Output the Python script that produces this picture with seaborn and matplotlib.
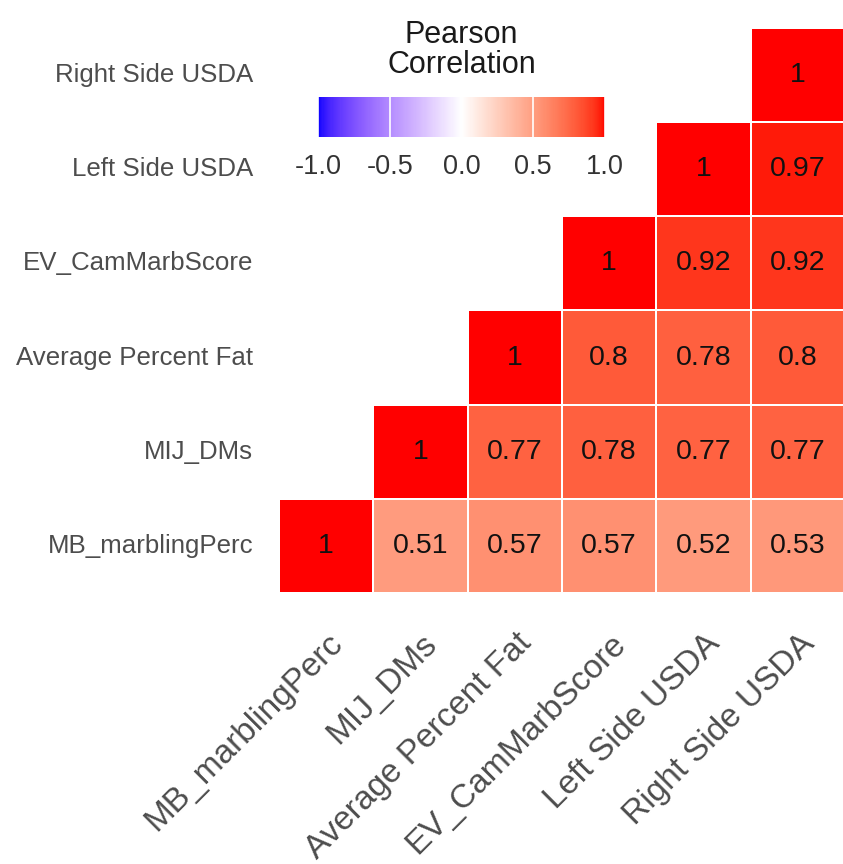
import numpy as np
import pandas as pd
import matplotlib
matplotlib.use("Agg")
import matplotlib.pyplot as plt
import matplotlib.transforms as mtransforms
from matplotlib.colors import ListedColormap
import seaborn as sns

# Variables (bottom-to-top on the y axis, left-to-right on the x axis)
variables = ["MB_marblingPerc", "MIJ_DMs", "Average Percent Fat",
             "EV_CamMarbScore", "Left Side USDA", "Right Side USDA"]

# Pearson correlation of each variable with every variable
r_mb = [1.00, 0.51, 0.57, 0.57, 0.52, 0.53]
r_mij = [0.51, 1.00, 0.77, 0.78, 0.77, 0.77]
r_fat = [0.57, 0.77, 1.00, 0.80, 0.78, 0.80]
r_ev = [0.57, 0.78, 0.80, 1.00, 0.92, 0.92]
r_left = [0.52, 0.77, 0.78, 0.92, 1.00, 0.97]
r_right = [0.53, 0.77, 0.80, 0.92, 0.97, 1.00]

cbar_ticks = [-1.0, -0.5, 0.0, 0.5, 1.0]
cbar_ticklabels = ["-1.0", "-0.5", "0.0", "0.5", "1.0"]


# --- diverging blue-white-red palette interpolated in CIE Lab ---------------
_M = np.array([[0.4124, 0.3576, 0.1805],
               [0.2126, 0.7152, 0.0722],
               [0.0193, 0.1192, 0.9505]])
_WHITE = np.array([0.95047, 1.0, 1.08883])


def srgb_to_lab(rgb):
    c = np.asarray(rgb, float)
    lin = np.where(c <= 0.04045, c / 12.92, ((c + 0.055) / 1.055) ** 2.4)
    xyz = _M @ lin / _WHITE
    f = np.where(xyz > 0.008856, np.cbrt(xyz), 7.787 * xyz + 16 / 116)
    return np.array([116 * f[1] - 16, 500 * (f[0] - f[1]), 200 * (f[1] - f[2])])


def lab_to_srgb(lab):
    L, a, b = lab
    fy = (L + 16) / 116
    fx = fy + a / 500
    fz = fy - b / 200
    f = np.array([fx, fy, fz])
    xyz = np.where(f ** 3 > 0.008856, f ** 3, (f - 16 / 116) / 7.787) * _WHITE
    lin = np.linalg.solve(_M, xyz)
    lin = np.clip(lin, 0, 1)
    c = np.where(lin <= 0.0031308, 12.92 * lin, 1.055 * lin ** (1 / 2.4) - 0.055)
    return np.clip(c, 0, 1)


lab_lo = srgb_to_lab([0, 0, 1])
lab_mid = srgb_to_lab([1, 1, 1])
lab_hi = srgb_to_lab([1, 0, 0])
colors = []
for t in np.linspace(-1, 1, 256):
    if t < 0:
        lab = lab_mid + (lab_lo - lab_mid) * (-t)
    else:
        lab = lab_mid + (lab_hi - lab_mid) * t
    colors.append(lab_to_srgb(lab))
cmap = ListedColormap(colors)

# --- data frame, upper-triangle mask and cell labels ------------------------
corr = pd.DataFrame([r_mb, r_mij, r_fat, r_ev, r_left, r_right],
                    index=variables, columns=variables)
shown = corr.iloc[::-1]  # top row is the last variable
n = len(variables)
row_idx = np.array([variables.index(v) for v in shown.index])[:, None]
col_idx = np.arange(n)[None, :]
mask = col_idx < row_idx
labels = np.vectorize(lambda v: f"{v:g}")(shown.values)

# --- figure -----------------------------------------------------------------
sns.set_style("white")
plt.rcParams["font.family"] = ["Liberation Sans", "DejaVu Sans"]
plt.rcParams["axes.unicode_minus"] = False

W, H = 843, 864
fig = plt.figure(figsize=(W / 100, H / 100), dpi=100)
fig.patch.set_facecolor("white")

ax_l, ax_t, ax_r, ax_b = 279, 28, 845, 593
ax = fig.add_axes([ax_l / W, 1 - ax_b / H, (ax_r - ax_l) / W, (ax_b - ax_t) / H])

sns.heatmap(shown, mask=mask, cmap=cmap, vmin=-1, vmax=1,
            annot=labels, fmt="",
            annot_kws={"size": 20.5, "color": "#111111"},
            linewidths=1.3, linecolor="white", cbar=False, ax=ax)

ax.set_xlabel("")
ax.set_ylabel("")
ax.tick_params(axis="both", length=0, colors="#4D4D4D")
ax.tick_params(axis="y", pad=18.5, labelsize=18.6)
ax.tick_params(axis="x", pad=3.5, labelsize=24)
plt.setp(ax.get_yticklabels(), rotation=0, ha="right", va="center")

offset = mtransforms.ScaledTranslation(1 / 100, -30 / 100, fig.dpi_scale_trans)
for lab in ax.get_xticklabels():
    lab.set_rotation(45)
    lab.set_ha("right")
    lab.set_va("top")
    lab.set_rotation_mode("anchor")
    lab.set_transform(lab.get_transform() + offset)

# --- colour bar legend ------------------------------------------------------
cb_l, cb_t, cb_r, cb_b = 318, 97, 605, 137
cax = fig.add_axes([cb_l / W, 1 - cb_b / H, (cb_r - cb_l) / W, (cb_b - cb_t) / H])
cbar = fig.colorbar(ax.collections[0], cax=cax, orientation="horizontal")
cbar.outline.set_visible(False)
cbar.set_ticks(cbar_ticks)
cbar.set_ticklabels(cbar_ticklabels)
cax.tick_params(axis="x", length=0, labelsize=19.5, labelcolor="#333333", pad=12)
for t in cbar_ticks:
    cax.axvline(t, color="white", lw=1.2, zorder=5)

fig.text((cb_l + cb_r) / 2 / W, 1 - 50 / H, "Pearson\nCorrelation",
         ha="center", va="center", fontsize=22, color="#1A1A1A", linespacing=0.98)

fig.savefig("out.png", dpi=100, facecolor="white")
